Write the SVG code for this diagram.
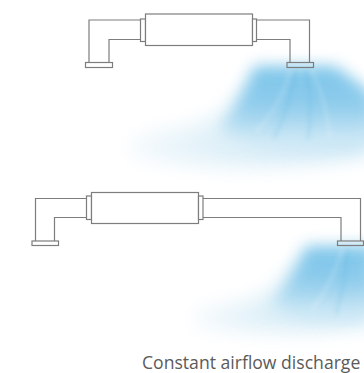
<svg xmlns="http://www.w3.org/2000/svg" width="364" height="373" viewBox="0 0 364 373">
  <style>
    .pipe { fill: none; stroke: #7d7d7d; stroke-width: 1.2; }
    .body { fill: #ffffff; stroke: #7d7d7d; stroke-width: 1.2; }
    .caption { font-family: "Open Sans", "Noto Sans", sans-serif; font-size: 17.6px; fill: #5a5a5a; }
    .streak { fill: none; stroke: #ffffff; stroke-opacity: 0.18; stroke-width: 3; }
    .streak-dark { fill: none; stroke: #4aa9da; stroke-opacity: 0.18; stroke-width: 3; }
  </style>
  <defs>
    <filter id="soft" x="-30%" y="-30%" width="160%" height="160%">
      <feGaussianBlur stdDeviation="7.5"/>
    </filter>
    <filter id="softer" x="-30%" y="-30%" width="160%" height="160%">
      <feGaussianBlur stdDeviation="10"/>
    </filter>
    <filter id="streakBlur" x="-30%" y="-30%" width="160%" height="160%">
      <feGaussianBlur stdDeviation="2"/>
    </filter>
    <linearGradient id="core" x1="0" y1="0" x2="0" y2="1">
      <stop offset="0" stop-color="#6fbfe7"/>
      <stop offset="0.5" stop-color="#8ccbec"/>
      <stop offset="1" stop-color="#dcEff8"/>
    </linearGradient>
    <linearGradient id="tail" x1="1" y1="0" x2="0" y2="0">
      <stop offset="0" stop-color="#b3dcf1"/>
      <stop offset="0.6" stop-color="#d6ecf6"/>
      <stop offset="1" stop-color="#f1f8fc"/>
    </linearGradient>
  </defs>

  <!-- airflow plume under the upper outlet -->
  <g id="plume-top">
    <path d="M 245 85 C 232 112 212 124 165 130 C 128 135 118 150 140 158 C 200 170 300 168 372 152 L 372 92 Z" fill="url(#tail)" opacity="0.8" filter="url(#softer)"/>
    <path d="M 254 66 L 334 66 C 352 76 366 90 374 100 L 374 145 C 320 150 262 146 220 130 C 230 116 242 98 254 66 Z" fill="url(#core)" opacity="0.92" filter="url(#soft)"/>
    <g filter="url(#streakBlur)">
      <path class="streak" d="M 290 70 C 284 95 272 115 256 132"/>
      <path class="streak" d="M 312 70 C 322 92 328 112 330 138"/>
      <path class="streak-dark" d="M 296 70 C 292 95 284 118 274 138"/>
      <path class="streak-dark" d="M 306 70 C 310 95 312 115 308 140"/>
    </g>
  </g>

  <!-- airflow plume under the lower outlet -->
  <g id="plume-bottom">
    <path d="M 295 262 C 285 285 265 300 225 305 C 192 309 182 320 200 326 C 250 334 320 332 372 322 L 372 268 Z" fill="url(#tail)" opacity="0.8" filter="url(#softer)"/>
    <path d="M 306 246 L 374 246 L 374 318 C 340 322 302 318 272 304 C 284 290 294 274 306 246 Z" fill="url(#core)" opacity="0.92" filter="url(#soft)"/>
    <g filter="url(#streakBlur)">
      <path class="streak" d="M 342 249 C 336 272 326 292 312 310"/>
      <path class="streak-dark" d="M 348 249 C 346 272 342 294 336 314"/>
    </g>
  </g>

  <!-- upper duct: short run to the outlet -->
  <g id="duct-top">
    <path class="pipe" d="M 140.5 20 H 89 V 62.5 M 140.5 39.5 H 109 V 62.5"/>
    <rect class="body" x="85.5" y="62.5" width="27" height="5"/>
    <rect class="body" x="140.5" y="19" width="5" height="22.5"/>
    <rect class="body" x="145.5" y="14" width="107" height="31.5"/>
    <rect class="body" x="252.5" y="19" width="4" height="22.5"/>
    <path class="pipe" d="M 256.5 20 H 309.5 V 62.5 M 256.5 39.5 H 290 V 62.5"/>
    <rect class="pipe" x="287" y="62.5" width="26.5" height="5"/>
  </g>

  <!-- lower duct: long run to the outlet -->
  <g id="duct-bottom">
    <path class="pipe" d="M 86.5 198.5 H 35.5 V 241 M 86.5 217.5 H 54.5 V 241"/>
    <rect class="body" x="32" y="241" width="26.5" height="4.5"/>
    <rect class="body" x="86.5" y="196" width="5" height="23.5"/>
    <rect class="body" x="91.5" y="192.5" width="107" height="31"/>
    <rect class="body" x="198.5" y="196" width="4.5" height="23.5"/>
    <path class="pipe" d="M 203 198.5 H 360.5 V 241 M 203 217.5 H 341 V 241"/>
    <rect class="pipe" x="337.5" y="241" width="26" height="4.5"/>
  </g>

  <g id="caption">
    <text class="caption" x="142" y="369">Constant airflow discharge</text>
  </g>
</svg>
